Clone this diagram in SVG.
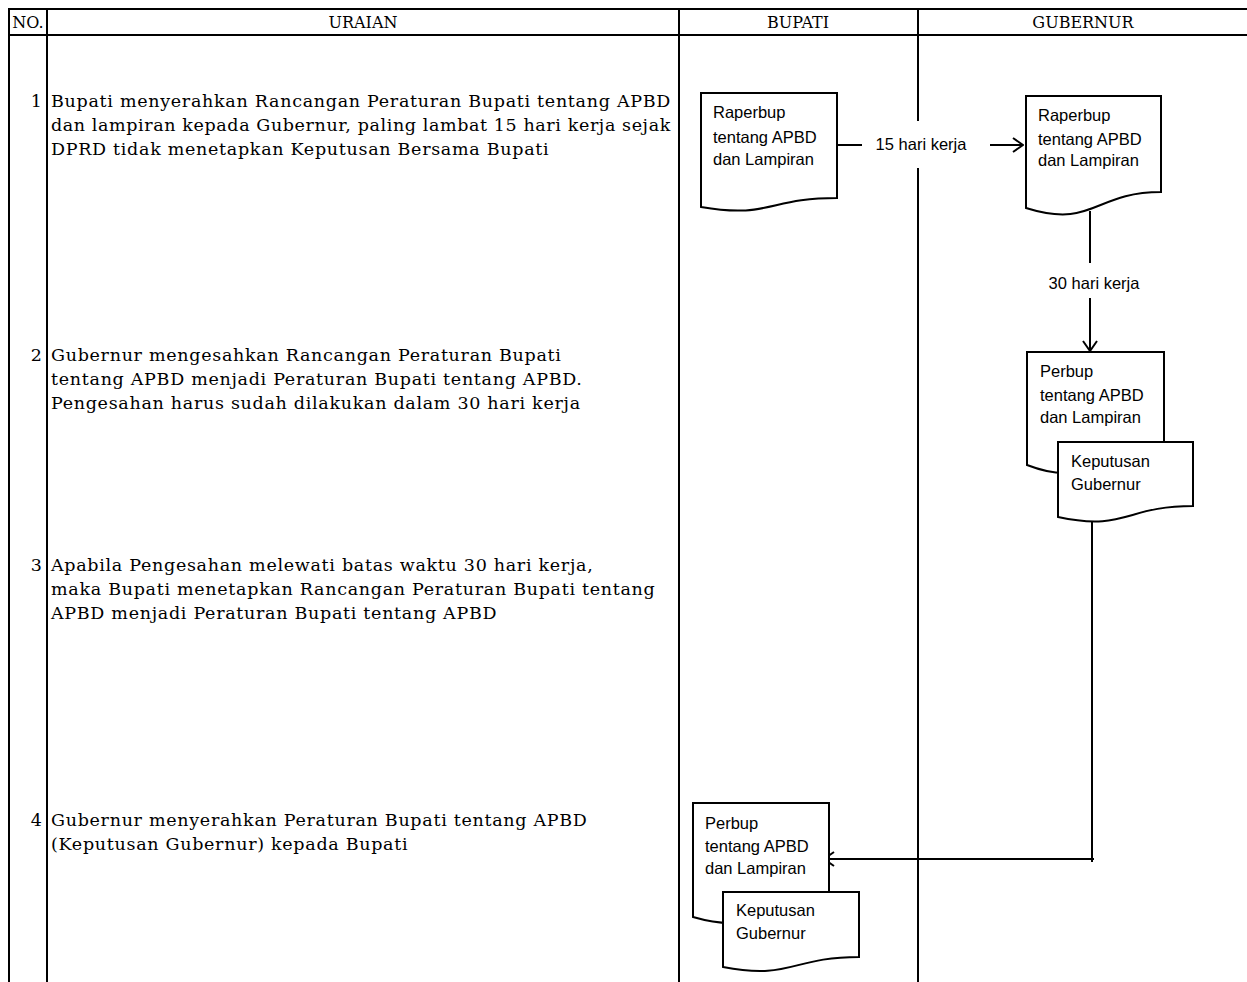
<svg xmlns="http://www.w3.org/2000/svg" width="1247" height="982" viewBox="0 0 1247 982">
<defs>
<style>
.grid{stroke:#000;stroke-width:2;fill:none}
.hd{font-family:"DejaVu Serif","Liberation Serif",serif;font-size:16px;fill:#000;text-anchor:middle}
.ur{font-family:"DejaVu Serif","Liberation Serif",serif;font-size:17.5px;fill:#000;letter-spacing:0.7px}
.num{font-family:"DejaVu Serif","Liberation Serif",serif;font-size:17.5px;fill:#000;text-anchor:end}
.doc{fill:#fff;stroke:#000;stroke-width:2}
.dt{font-family:"Liberation Sans",Arial,sans-serif;font-size:16.5px;fill:#000}
.lbl{font-family:"Liberation Sans",Arial,sans-serif;font-size:16.5px;fill:#000;text-anchor:middle}
.con{stroke:#000;stroke-width:2;fill:none}
</style>
<marker id="arr" viewBox="0 0 12 16" refX="11" refY="8" markerWidth="12" markerHeight="16" markerUnits="userSpaceOnUse" orient="auto">
<path d="M1,1 L11,8 L1,15" fill="none" stroke="#000" stroke-width="2"/>
</marker>
</defs>
<rect width="1247" height="982" fill="#fff"/>
<g id="table">
<line class="grid" x1="8" y1="9" x2="1247" y2="9"/>
<line class="grid" x1="8" y1="35" x2="1247" y2="35"/>
<line class="grid" x1="9" y1="8" x2="9" y2="982"/>
<line class="grid" x1="47" y1="8" x2="47" y2="982"/>
<line class="grid" x1="679" y1="8" x2="679" y2="982"/>
<line class="grid" x1="918" y1="8" x2="918" y2="982"/>
<text class="hd" x="28" y="28">NO.</text>
<text class="hd" x="363" y="28">URAIAN</text>
<text class="hd" x="798" y="28">BUPATI</text>
<text class="hd" x="1083" y="28">GUBERNUR</text>
</g>
<g id="step1">
<text class="num" x="42" y="107">1</text>
<text class="ur" x="51" y="107" textLength="620">Bupati menyerahkan Rancangan Peraturan Bupati tentang APBD</text>
<text class="ur" x="51" y="131" textLength="620">dan lampiran kepada Gubernur, paling lambat 15 hari kerja sejak</text>
<text class="ur" x="51" y="155">DPRD tidak menetapkan Keputusan Bersama Bupati</text>
</g>
<g id="step2">
<text class="num" x="42" y="361">2</text>
<text class="ur" x="51" y="361">Gubernur mengesahkan Rancangan Peraturan Bupati</text>
<text class="ur" x="51" y="385">tentang APBD menjadi Peraturan Bupati tentang APBD.</text>
<text class="ur" x="51" y="409">Pengesahan harus sudah dilakukan dalam 30 hari kerja</text>
</g>
<g id="step3">
<text class="num" x="42" y="571">3</text>
<text class="ur" x="51" y="571">Apabila Pengesahan melewati batas waktu 30 hari kerja,</text>
<text class="ur" x="51" y="595">maka Bupati menetapkan Rancangan Peraturan Bupati tentang</text>
<text class="ur" x="51" y="619">APBD menjadi Peraturan Bupati tentang APBD</text>
</g>
<g id="step4">
<text class="num" x="42" y="826">4</text>
<text class="ur" x="51" y="826">Gubernur menyerahkan Peraturan Bupati tentang APBD</text>
<text class="ur" x="51" y="850">(Keputusan Gubernur) kepada Bupati</text>
</g>
<g id="connectors">
<rect x="866" y="121" width="118" height="47" fill="#fff"/>
<line class="con" x1="837" y1="145" x2="862" y2="145"/>
<text class="lbl" x="921" y="150">15 hari kerja</text>
<line class="con" x1="990" y1="145" x2="1023" y2="145" marker-end="url(#arr)"/>
<line class="con" x1="1090" y1="211" x2="1090" y2="263"/>
<text class="lbl" x="1094" y="289">30 hari kerja</text>
<line class="con" x1="1090" y1="298" x2="1090" y2="351" marker-end="url(#arr)"/>
<line class="con" x1="1092" y1="519" x2="1092" y2="862"/>
<line class="con" x1="1094" y1="859" x2="824" y2="859" marker-end="url(#arr)"/>
</g>
<g id="doc-bupati-raperbup">
<path class="doc" d="M701,93 H837 V198 C769,198 769,218.8 701,207 Z"/>
<text class="dt" x="713" y="118">Raperbup</text>
<text class="dt" x="713" y="143">tentang APBD</text>
<text class="dt" x="713" y="165">dan Lampiran</text>
</g>
<g id="doc-gubernur-raperbup">
<path class="doc" d="M1026,96 H1161 V192 C1093.5,192 1093.5,229.1 1026,208 Z"/>
<text class="dt" x="1038" y="121">Raperbup</text>
<text class="dt" x="1038" y="145">tentang APBD</text>
<text class="dt" x="1038" y="166">dan Lampiran</text>
</g>
<g id="doc-gubernur-perbup">
<path class="doc" d="M1027,352 H1164 V445 C1095.5,445 1095.5,491.3 1027,465 Z"/>
<text class="dt" x="1040" y="377">Perbup</text>
<text class="dt" x="1040" y="401">tentang APBD</text>
<text class="dt" x="1040" y="423">dan Lampiran</text>
</g>
<g id="doc-gubernur-keputusan">
<path class="doc" d="M1058,442 H1193 V506 C1125.5,506 1125.5,531.5 1058,517 Z"/>
<text class="dt" x="1071" y="467">Keputusan</text>
<text class="dt" x="1071" y="490">Gubernur</text>
</g>
<g id="doc-bupati-perbup">
<path class="doc" d="M693,803 H829 V902 C761,902 761,936.7 693,917 Z"/>
<text class="dt" x="705" y="829">Perbup</text>
<text class="dt" x="705" y="852">tentang APBD</text>
<text class="dt" x="705" y="874">dan Lampiran</text>
</g>
<g id="doc-bupati-keputusan">
<path class="doc" d="M723,892 H859 V957 C791,957 791,980.2 723,967 Z"/>
<text class="dt" x="736" y="916">Keputusan</text>
<text class="dt" x="736" y="939">Gubernur</text>
</g>
</svg>
